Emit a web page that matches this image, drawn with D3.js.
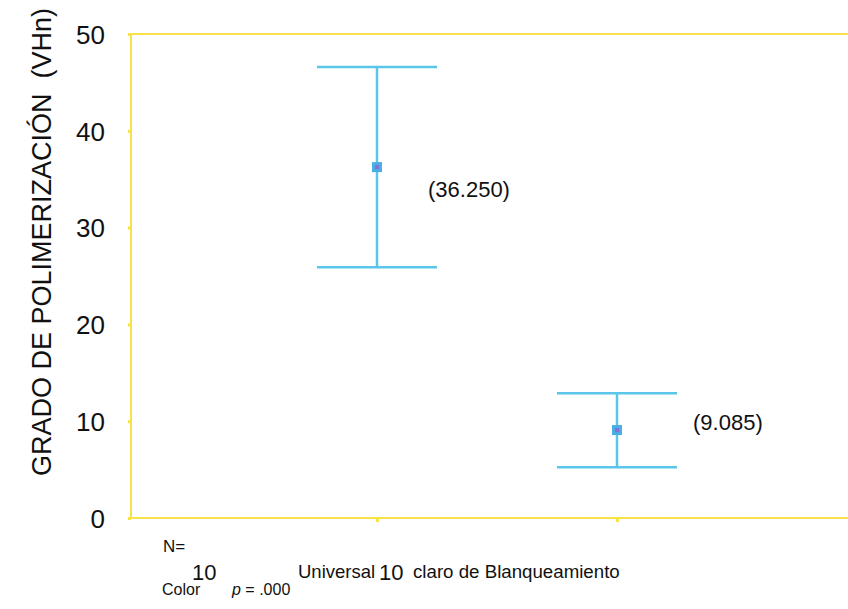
<!DOCTYPE html>
<html><head><meta charset="utf-8">
<script src="https://cdn.jsdelivr.net/npm/d3@7"></script>
<style>body{margin:0;background:#fff}svg{display:block}text{font-family:"Liberation Sans",Arial,sans-serif;fill:#111}</style>
</head><body><svg id="c" width="848" height="609"></svg>
<script>
const categories = ["Color Universal", "Color claro de Blanqueamiento"];
const means = [36.25, 9.085];
const upper = [46.6, 12.9];
const lower = [25.9, 5.25];
const meanLabels = ["(36.250)", "(9.085)"];
const yTicks = [0, 10, 20, 30, 40, 50];

(function () {
const svg = d3.select("#c");
const pL = 131, pR = 852, pT = 34, pB = 518;
const y = d3.scaleLinear().domain([0, 50]).range([pB, pT]);
const x = d3.scalePoint().domain(categories).range([377, 617]).padding(0);
const yellow = "#f6e34a", blue = "#5cc6ea";

// frame (right side lies outside the picture)
const fr = svg.append("g").attr("stroke", yellow).attr("stroke-width", 2);
fr.append("line").attr("x1", pL).attr("x2", pR).attr("y1", pT).attr("y2", pT);
fr.append("line").attr("x1", pL).attr("x2", pR).attr("y1", pB).attr("y2", pB);
fr.append("line").attr("x1", pL).attr("x2", pL).attr("y1", pT).attr("y2", pB);

// y axis
const yAxis = d3.axisLeft(y).tickValues(yTicks).tickSize(3).tickPadding(23);
const ya = svg.append("g").attr("transform", `translate(${pL},0)`).call(yAxis);
ya.select(".domain").remove();
ya.selectAll(".tick line").attr("stroke", yellow).attr("stroke-width", 3);
ya.selectAll(".tick text").attr("font-size", 26).attr("dy", "0.36em")
  .style("font-family", '"Liberation Sans",Arial,sans-serif').attr("fill", "#111");

// x axis ticks
const xAxis = d3.axisBottom(x).tickSize(4).tickFormat("");
const xa = svg.append("g").attr("transform", `translate(0,${pB})`).call(xAxis);
xa.select(".domain").remove();
xa.selectAll(".tick line").attr("stroke", yellow).attr("stroke-width", 3);

// y title
svg.append("text").attr("transform", "translate(51,242) rotate(-90)").attr("text-anchor", "middle")
  .attr("font-size", 27).attr("xml:space", "preserve").text("GRADO DE POLIMERIZACIÓN  (VHn)");

// error bars
const capW = 60;
const g = svg.append("g");
const lblX = [428, 693], lblDy = [30, 0];
categories.forEach((c, i) => {
  const cx = x(c);
  g.append("line").attr("x1", cx).attr("x2", cx).attr("y1", y(upper[i])).attr("y2", y(lower[i])).attr("stroke", blue).attr("stroke-width", 2.5);
  [upper[i], lower[i]].forEach(v => g.append("line").attr("x1", cx - capW).attr("x2", cx + capW)
    .attr("y1", y(v)).attr("y2", y(v)).attr("stroke", blue).attr("stroke-width", 2.5));
  g.append("rect").attr("x", cx - 5).attr("y", y(means[i]) - 5).attr("width", 10).attr("height", 10).attr("fill", "#4aaee6");
  g.append("rect").attr("x", cx - 2).attr("y", y(means[i]) - 2).attr("width", 4).attr("height", 4).attr("fill", "#8a6fd0");
  g.append("text").attr("x", lblX[i]).attr("y", y(means[i]) + lblDy[i]).attr("font-size", 22).text(meanLabels[i]);
});

// bottom labels
svg.append("text").attr("x", 163).attr("y", 552).attr("font-size", 17).text("N=");
svg.append("text").attr("x", 192).attr("y", 580).attr("font-size", 22).text("10");
svg.append("text").attr("x", 298).attr("y", 578).attr("font-size", 18.5).text("Universal");
svg.append("text").attr("x", 379).attr("y", 580).attr("font-size", 22).text("10");
svg.append("text").attr("x", 413).attr("y", 578).attr("font-size", 18.7).text("claro de Blanqueamiento");
svg.append("text").attr("x", 162).attr("y", 595).attr("font-size", 16).text("Color");
const pt = svg.append("text").attr("x", 232).attr("y", 595).attr("font-size", 16);
pt.append("tspan").attr("font-style", "italic").text("p");
pt.append("tspan").text(" = .000");
})();
</script></body></html>
